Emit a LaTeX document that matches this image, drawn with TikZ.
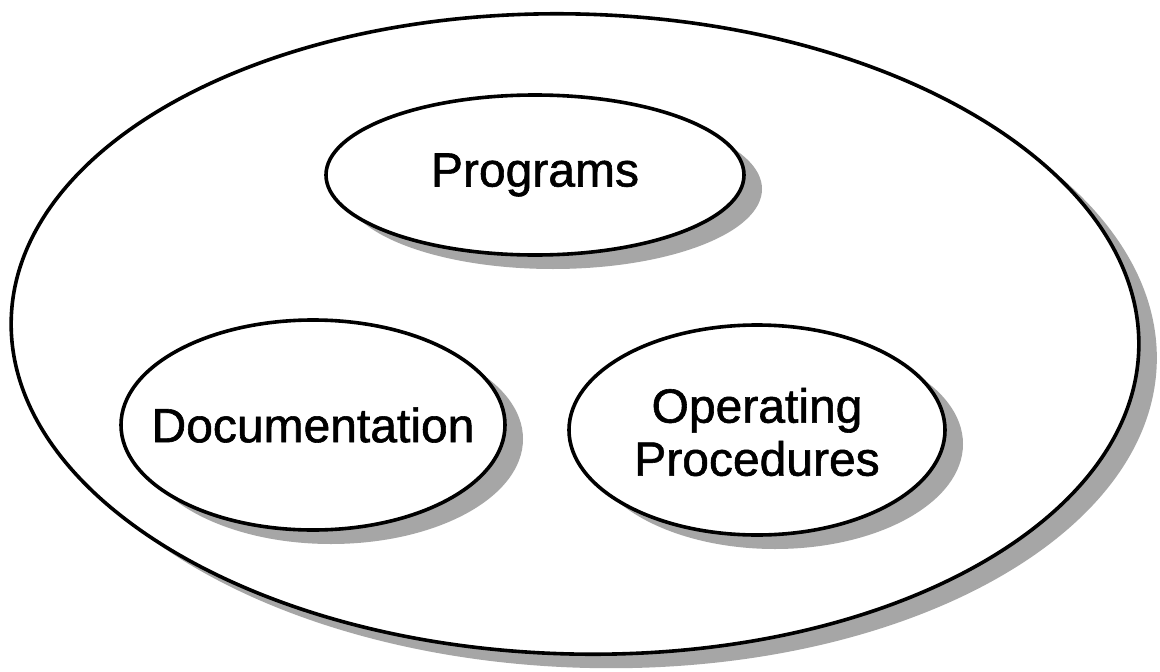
\documentclass[tikz,border=0pt]{standalone}
\usepackage{fontspec}
\setmainfont{Liberation Sans}
\newfontfamily\heavyfont[FakeBold=1.2]{Liberation Sans}
\usetikzlibrary{shapes.geometric,shadows}
\begin{document}
\begin{tikzpicture}[x=1pt,y=-1pt,
  blob/.style={ellipse, draw=black, line width=3.6pt, fill=white, inner sep=0pt,
    drop shadow={shadow xshift=18pt, shadow yshift=-14pt, fill=black!35, opacity=1}},
  lbl/.style={font=\heavyfont\fontsize{48}{53}\selectfont, align=center, inner sep=0pt}]
\useasboundingbox[fill=white] (0,0) rectangle (1160,672);
\node[blob, minimum width=1128pt, minimum height=640pt, rotate=-1.5] (outer) at (575,334) {};
\node[blob, minimum width=418pt, minimum height=160pt] (prog) at (535,175) {};
\node[blob, minimum width=384pt, minimum height=210pt] (doc) at (313,425) {};
\node[blob, minimum width=376pt, minimum height=210pt] (ops) at (757,430) {};
\node[lbl] (progt) at (prog.center) {Programs};
\node[lbl] (doct) at (doc.center) {Documentation};
\node[lbl] (opst) at ([yshift=-2pt]ops.center) {Operating\\Procedures};
\end{tikzpicture}
\end{document}
